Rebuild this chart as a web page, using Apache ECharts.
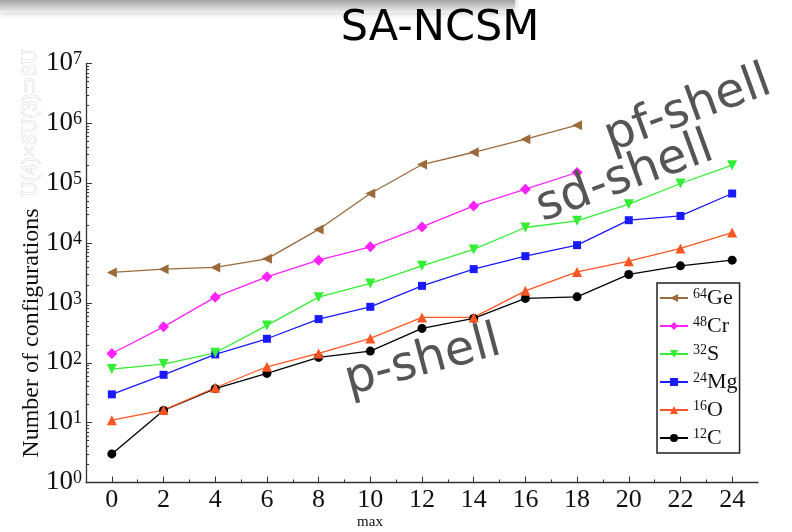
<!DOCTYPE html>
<html>
<head>
<meta charset="utf-8">
<script src="https://cdn.jsdelivr.net/npm/echarts@6/dist/echarts.min.js"></script>
<style>
  html, body { margin: 0; padding: 0; background: #fff; }
  #main { width: 792px; height: 532px; }
</style>
</head>
<body>
<div id="main"></div>
<script>
// Nmax values
var nmaxFull = [0, 2, 4, 6, 8, 10, 12, 14, 16, 18, 20, 22, 24];
var nmaxShort = [0, 2, 4, 6, 8, 10, 12, 14, 16, 18];

// number of configurations per nucleus
var ge64 = [3230, 3670, 3920, 5450, 16900, 67300, 205000, 329000, 543000, 930000];
var cr48 = [143, 399, 1250, 2730, 5180, 8650, 18600, 41800, 79400, 151000];
var s32 = [78.5, 95, 147, 421, 1250, 2120, 4160, 7820, 18200, 23500, 44600, 98900, 200000];
var mg24 = [29.7, 63, 138, 252, 537, 861, 1930, 3670, 6040, 9230, 24100, 28400, 67300];
var o16 = [11.0, 16.2, 38.3, 85.8, 143, 255, 573, 573, 1590, 3300, 4990, 8130, 15000];
var c12 = [3.0, 16, 37, 66.5, 123, 157, 375, 551, 1190, 1265, 2990, 4160, 5180];

// ticks
var xTicks = [0, 2, 4, 6, 8, 10, 12, 14, 16, 18, 20, 22, 24];
var xMinor = [1, 3, 5, 7, 9, 11, 13, 15, 17, 19, 21, 23];
var yTicks = [1, 10, 100, 1000, 10000, 100000, 1000000, 10000000];

// log minor ticks 2..9 in every decade
var yMinor = [];
for (var d = 0; d < 7; d++) {
    for (var k = 2; k <= 9; k++) {
        yMinor.push(k * Math.pow(10, d));
    }
}

function pairs(xs, ys) {
    var out = [];
    for (var i = 0; i < ys.length; i++) out.push([xs[i], ys[i]]);
    return out;
}

var serif = 'Liberation Serif';
var comic = 'DejaVu Sans';

function mkSeries(name, xs, ys, color, symbol, rot, size) {
    return {
        name: name,
        type: 'line',
        data: pairs(xs, ys),
        symbol: symbol,
        symbolRotate: rot,
        symbolSize: size,
        lineStyle: { color: color, width: 1.3 },
        itemStyle: { color: color },
        emphasis: { disabled: true }
    };
}

var myChart = echarts.init(document.getElementById('main'));

var option = {
    animation: false,
    backgroundColor: '#fff',
    grid: { left: 86, right: 34, top: 63.5, bottom: 49.5, outerBoundsMode: 'none' },
    legend: {
        data: ['64Ge', '48Cr', '32S', '24Mg', '16O', '12C'],
        orient: 'vertical',
        left: 657,
        top: 283,
        padding: [4, 2, 4, 2],
        itemWidth: 28,
        itemHeight: 10,
        itemGap: 6,
        borderColor: '#222',
        borderWidth: 1.5,
        backgroundColor: '#fff',
        formatter: function (name) {
            var m = name.match(/^(\d+)(.*)$/);
            return '{s|' + m[1] + '}{b|' + m[2] + '}';
        },
        textStyle: {
            rich: {
                s: { fontFamily: serif, fontSize: 14, color: '#111', verticalAlign: 'top', lineHeight: 14 },
                b: { fontFamily: serif, fontSize: 22, color: '#111', lineHeight: 22, verticalAlign: 'bottom' }
            }
        }
    },
    xAxis: [{
        type: 'value',
        min: -1,
        max: 25,
        axisLine: { onZero: false, lineStyle: { color: '#333', width: 1.3 } },
        axisTick: { show: true, inside: true, length: 6, customValues: xTicks, lineStyle: { color: '#333', width: 1 } },
        axisLabel: { customValues: xTicks, fontFamily: serif, fontSize: 26, color: '#111', margin: 5 },
        splitLine: { show: false }
    }, {
        type: 'value',
        min: -1,
        max: 25,
        position: 'bottom',
        axisLine: { show: false, onZero: false },
        axisTick: { show: true, inside: true, length: 3, customValues: xMinor, lineStyle: { color: '#333', width: 1 } },
        axisLabel: { show: false },
        splitLine: { show: false }
    }],
    yAxis: [{
        type: 'log',
        logBase: 10,
        min: 1,
        max: 10000000,
        axisLine: { show: true, onZero: false, lineStyle: { color: '#333', width: 1.3 } },
        axisTick: { show: true, inside: true, length: 6, customValues: yTicks, lineStyle: { color: '#333', width: 1 } },
        axisLabel: {
            customValues: yTicks,
            margin: 4,
            formatter: function (v) {
                var e = Math.round(Math.log10(v));
                return '{b|10}{s|' + e + '}';
            },
            rich: {
                b: { fontFamily: serif, fontSize: 27, color: '#111', lineHeight: 26, verticalAlign: 'bottom', padding: [14, 0, 0, 0] },
                s: { fontFamily: serif, fontSize: 18, color: '#111', lineHeight: 16, verticalAlign: 'top' }
            }
        },
        splitLine: { show: false }
    }, {
        type: 'log',
        logBase: 10,
        min: 1,
        max: 10000000,
        position: 'left',
        axisLine: { show: false, onZero: false },
        axisTick: { show: true, inside: true, length: 3, customValues: yMinor, lineStyle: { color: '#333', width: 1 } },
        axisLabel: { show: false },
        splitLine: { show: false }
    }],
    graphic: [
        {
            type: 'rect',
            shape: { x: 0, y: -4, width: 515, height: 17, r: [0, 0, 8, 0] },
            style: {
                fill: new echarts.graphic.LinearGradient(0, 0, 0, 1, [
                    { offset: 0, color: '#8c8c8c' },
                    { offset: 1, color: '#f2f2f2' }
                ]),
                shadowBlur: 6,
                shadowColor: 'rgba(0,0,0,0.25)'
            },
            z: 100
        },
        {
            type: 'text',
            x: 440, y: 29,
            style: { text: 'SA-NCSM', fontFamily: comic, fontSize: 43, fill: '#000', align: 'center', verticalAlign: 'middle' },
            z: 100
        },
        {
            type: 'text',
            x: 30, y: 123,
            rotation: Math.PI / 2,
            style: { text: 'U(4)×SU(3)⊃SU', fontFamily: serif, fontSize: 21, fill: '#fff', stroke: '#d6d6d6', lineWidth: 1, align: 'center', verticalAlign: 'middle' },
            z: 100
        },
        {
            type: 'text',
            x: 32, y: 333,
            rotation: Math.PI / 2,
            style: { text: 'Number of configurations', fontFamily: serif, fontSize: 24, fill: '#111', align: 'center', verticalAlign: 'middle' },
            z: 100
        },
        {
            type: 'text',
            x: 688, y: 110,
            rotation: 20 * Math.PI / 180,
            style: { text: 'pf-shell', fontFamily: comic, fontSize: 48, fill: '#555', align: 'center', verticalAlign: 'middle' },
            z: 100
        },
        {
            type: 'text',
            x: 625, y: 178,
            rotation: 20 * Math.PI / 180,
            style: { text: 'sd-shell', fontFamily: comic, fontSize: 48, fill: '#555', align: 'center', verticalAlign: 'middle' },
            z: 100
        },
        {
            type: 'text',
            x: 423, y: 362,
            rotation: 15 * Math.PI / 180,
            style: { text: 'p-shell', fontFamily: comic, fontSize: 48, fill: '#555', align: 'center', verticalAlign: 'middle' },
            z: 100
        },
        {
            type: 'text',
            x: 370, y: 522,
            style: { text: 'max', fontFamily: serif, fontSize: 15, fill: '#111', align: 'center', verticalAlign: 'middle' },
            z: 100
        }
    ],
    series: [
        mkSeries('12C', nmaxFull, c12, '#000000', 'circle', 0, 9),
        mkSeries('16O', nmaxFull, o16, '#ff5522', 'triangle', 0, 10),
        mkSeries('24Mg', nmaxFull, mg24, '#1a1aff', 'rect', 0, 8),
        mkSeries('32S', nmaxFull, s32, '#33ee33', 'triangle', 180, 10),
        mkSeries('48Cr', nmaxShort, cr48, '#ff22ff', 'diamond', 0, 11),
        mkSeries('64Ge', nmaxShort, ge64, '#9c6b3c', 'triangle', 90, 10)
    ]
};

myChart.setOption(option);
</script>
</body>
</html>
